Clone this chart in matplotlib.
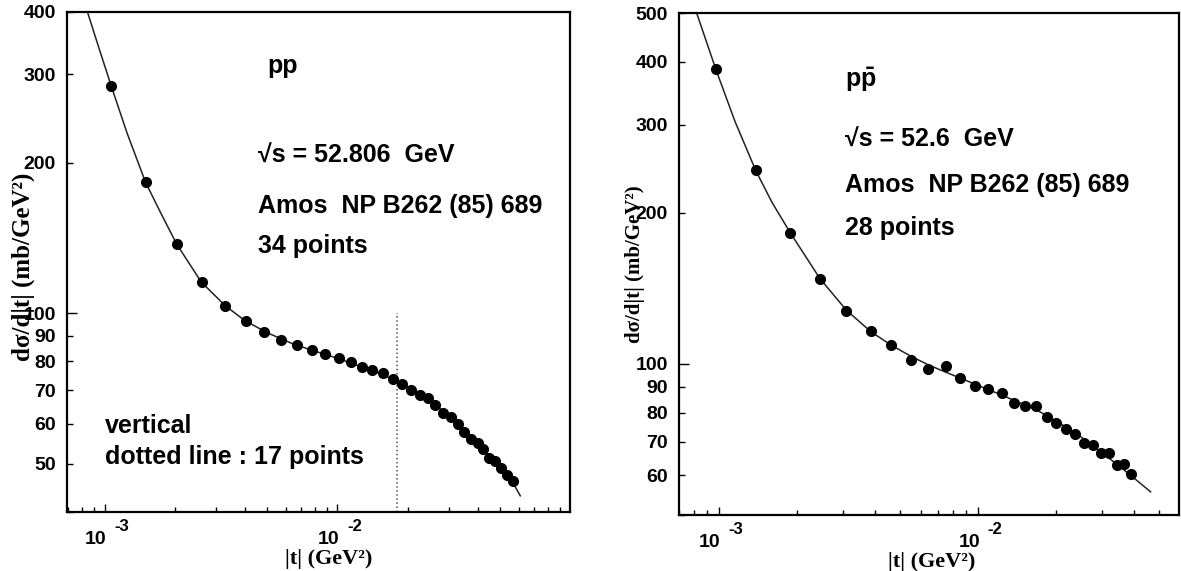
import numpy as np
import matplotlib.pyplot as plt
from matplotlib.ticker import FixedLocator, FuncFormatter, NullFormatter, LogLocator

plt.rcParams['font.family'] = ['Liberation Sans', 'DejaVu Sans']
plt.rcParams['mathtext.fontset'] = 'custom'
plt.rcParams['mathtext.rm'] = 'Liberation Sans:bold'
plt.rcParams['mathtext.it'] = 'Liberation Sans:bold'
plt.rcParams['mathtext.bf'] = 'Liberation Sans:bold'

#---datos-pp (sqrt(s) = 52.806 GeV)----------------------------------------

t_pp = [1.069e-3, 1.502e-3, 2.04e-3, 2.61e-3, 3.29e-3, 4.04e-3, 4.86e-3, 5.74e-3,
        6.68e-3, 7.78e-3, 8.82e-3, 1.013e-2, 1.138e-2, 1.269e-2, 1.411e-2, 1.574e-2,
        1.738e-2, 1.90e-2, 2.078e-2, 2.256e-2, 2.436e-2, 2.627e-2, 2.827e-2, 3.07e-2,
        3.28e-2, 3.50e-2, 3.745e-2, 4.0e-2, 4.23e-2, 4.49e-2, 4.76e-2, 5.04e-2,
        5.35e-2, 5.66e-2]
ds_pp = [284, 182.6, 137.4, 115.2, 103.4, 96.2, 91.8, 88.3,
         86.4, 84.5, 82.7, 81.2, 79.9, 77.9, 76.9, 75.7,
         73.8, 72.1, 70.3, 68.5, 67.6, 65.5, 63.1, 62.0,
         60.0, 57.9, 56.0, 55.0, 53.5, 51.4, 50.7, 49.0,
         47.4, 46.1]

# curva del ajuste
tfit_pp = [8.45e-4, 9.5e-4, 1.07e-3, 1.25e-3, 1.5e-3, 1.75e-3, 2.04e-3, 2.6e-3,
           3.3e-3, 4.0e-3, 5.0e-3, 6.5e-3, 8.0e-3, 1.0e-2, 1.25e-2, 1.5e-2,
           1.8e-2, 2.2e-2, 2.6e-2, 3.0e-2, 3.5e-2, 4.0e-2, 4.5e-2, 5.0e-2,
           5.6e-2, 6.09e-2]
dsfit_pp = [400, 337, 284, 229, 182.6, 158, 137.4, 115.4,
            103.4, 96.6, 91.3, 86.6, 83.9, 81.2, 78.2, 75.9,
            73.1, 69.2, 65.9, 62.4, 58.2, 54.9, 51.6, 48.9,
            46.2, 43.1]

t_dotted = 0.018

#---datos-ppbar (sqrt(s) = 52.6 GeV)---------------------------------------

t_pbar = [9.71e-4, 1.385e-3, 1.878e-3, 2.452e-3, 3.097e-3, 3.846e-3, 4.62e-3,
          5.49e-3, 6.42e-3, 7.49e-3, 8.50e-3, 9.71e-3, 1.093e-2, 1.231e-2,
          1.373e-2, 1.514e-2, 1.665e-2, 1.845e-2, 2.006e-2, 2.185e-2, 2.375e-2,
          2.573e-2, 2.77e-2, 2.98e-2, 3.19e-2, 3.42e-2, 3.65e-2, 3.89e-2]
ds_pbar = [387, 243.4, 182.7, 147.6, 127.6, 116.5, 109.2,
           102.0, 97.7, 99.2, 93.7, 90.3, 89.1, 87.6,
           83.5, 82.3, 82.3, 78.3, 76.2, 74.2, 72.6,
           69.7, 68.8, 66.5, 66.5, 63.0, 63.3, 60.4]

tfit_pbar = [8.2e-4, 9.71e-4, 1.15e-3, 1.385e-3, 1.6e-3, 1.878e-3, 2.45e-3, 3.1e-3,
             3.85e-3, 4.62e-3, 5.5e-3, 6.5e-3, 7.5e-3, 8.5e-3, 1.0e-2, 1.2e-2,
             1.4e-2, 1.7e-2, 2.0e-2, 2.5e-2, 3.0e-2, 3.5e-2, 4.0e-2, 4.63e-2]
dsfit_pbar = [500, 387, 305, 243, 210, 183, 148, 128,
              116, 109, 103.6, 99.3, 96.3, 93.8, 90.6, 87.2,
              84.3, 80.7, 77.0, 71.5, 66.6, 62.6, 59.2, 55.6]

#---figura-------------------------------------------------------------------

fig = plt.figure(figsize=(11.81, 5.71), dpi=100)
ax1 = fig.add_axes([0.0567, 0.1033, 0.4259, 0.8757])
ax2 = fig.add_axes([0.5749, 0.0981, 0.4234, 0.8786])

ylabel = 'd\u03c3/d|t| (mb/GeV\u00b2)'
xlabel = '|t| (GeV\u00b2)'


def estilo(ax, ylim, ylabs, xlim):
	ax.set_xscale('log')
	ax.set_yscale('log')
	ax.set_xlim(*xlim)
	ax.set_ylim(*ylim)
	for s in ax.spines.values():
		s.set_linewidth(1.6)
	# eje y
	ax.yaxis.set_major_locator(FixedLocator([100]))
	ax.yaxis.set_minor_locator(FixedLocator([v for v in range(40, 100, 10)] + [200, 300, 400, 500]))
	fmt = FuncFormatter(lambda v, p: '%d' % round(v) if round(v) in ylabs else '')
	ax.yaxis.set_major_formatter(fmt)
	ax.yaxis.set_minor_formatter(fmt)
	ax.tick_params(axis='y', which='major', direction='in', length=7, width=1, pad=8, labelsize=14)
	ax.tick_params(axis='y', which='minor', direction='in', length=4, width=1, pad=8, labelsize=14)
	# eje x
	ax.xaxis.set_major_locator(FixedLocator([1e-3, 1e-2]))
	ax.xaxis.set_minor_locator(LogLocator(base=10, subs=np.arange(2, 10)))
	ax.xaxis.set_major_formatter(NullFormatter())
	ax.xaxis.set_minor_formatter(NullFormatter())
	ax.tick_params(axis='x', which='major', direction='in', length=6, width=1)
	ax.tick_params(axis='x', which='minor', direction='in', length=3.5, width=1)
	for lab in ax.get_yticklabels(which='both'):
		lab.set_fontweight('bold')
	for xt, e in [(1e-3, '-3'), (1e-2, '-2')]:
		ax.annotate('10', xy=(xt, 0), xycoords=('data', 'axes fraction'),
		            xytext=(-6.5, -23), textcoords='offset points',
		            ha='center', va='baseline', fontsize=14, fontweight='bold')
		ax.annotate(e, xy=(xt, 0), xycoords=('data', 'axes fraction'),
		            xytext=(7, -13.5), textcoords='offset points',
		            ha='left', va='baseline', fontsize=12, fontweight='bold')


estilo(ax1, (40, 400), [50, 60, 70, 80, 90, 100, 200, 300, 400], (6.9e-4, 0.0995))
estilo(ax2, (50, 500), [60, 70, 80, 90, 100, 200, 300, 400, 500], (7e-4, 0.0596))

# panel izquierdo: pp
ax1.plot(tfit_pp, dsfit_pp, color='#222222', lw=1.1, zorder=2)
ax1.plot(t_pp, ds_pp, 'o', color='black', ms=7, zorder=3)
ax1.vlines(t_dotted, 40, 100, colors='#555555', linestyles=':', lw=1.1)

tb = dict(fontsize=18, fontweight='bold', transform=ax1.transAxes, va='baseline')
ax1.text(0.398, 0.878, 'pp', **tb)
ax1.text(0.380, 0.698, '\u221as = 52.806  GeV', **tb)
ax1.text(0.380, 0.598, 'Amos  NP B262 (85) 689', **tb)
ax1.text(0.380, 0.518, '34 points', **tb)
ax1.text(0.0755, 0.158, 'vertical', **tb)
ax1.text(0.0755, 0.096, 'dotted line : 17 points', **tb)

ax1.set_ylabel(ylabel, family='Liberation Serif', fontweight='bold', fontsize=18)
ax1.yaxis.set_label_coords(-0.064, 0.49)
ax1.set_xlabel(xlabel, family='Liberation Serif', fontweight='bold', fontsize=16)
ax1.xaxis.set_label_coords(0.52, -0.074)

# panel derecho: p pbar
ax2.plot(tfit_pbar, dsfit_pbar, color='#222222', lw=1.1, zorder=2)
ax2.plot(t_pbar, ds_pbar, 'o', color='black', ms=7, zorder=3)

tb2 = dict(fontsize=18, fontweight='bold', transform=ax2.transAxes, va='baseline')
ax2.text(0.332, 0.853, r'$\mathrm{p\bar{p}}$', **tb2)
ax2.text(0.332, 0.7335, '\u221as = 52.6  GeV', **tb2)
ax2.text(0.332, 0.644, 'Amos  NP B262 (85) 689', **tb2)
ax2.text(0.332, 0.558, '28 points', **tb2)

ax2.set_ylabel(ylabel, family='Liberation Serif', fontweight='bold', fontsize=15)
ax2.yaxis.set_label_coords(-0.068, 0.5)
ax2.set_xlabel(xlabel, family='Liberation Serif', fontweight='bold', fontsize=16)
ax2.xaxis.set_label_coords(0.505, -0.074)

fig.savefig('out.png', dpi=100)
